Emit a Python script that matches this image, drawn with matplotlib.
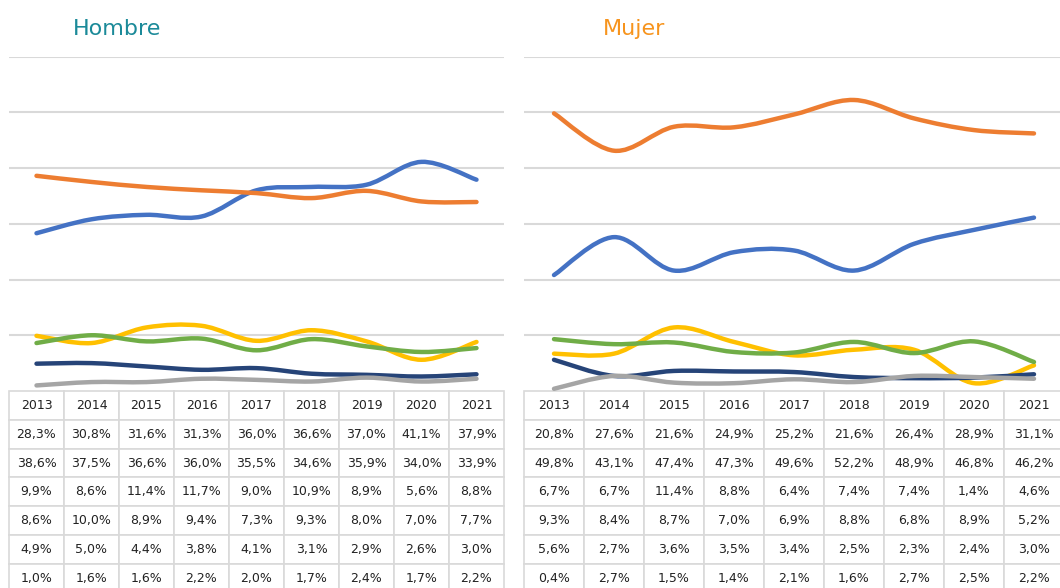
import numpy as np
import matplotlib
matplotlib.use('Agg')
import matplotlib.pyplot as plt
from matplotlib.path import Path
from matplotlib.patches import PathPatch

years = ['2013', '2014', '2015', '2016', '2017', '2018', '2019', '2020', '2021']

hombre_azul = [28.3, 30.8, 31.6, 31.3, 36.0, 36.6, 37.0, 41.1, 37.9]
hombre_naranja = [38.6, 37.5, 36.6, 36.0, 35.5, 34.6, 35.9, 34.0, 33.9]
hombre_amarillo = [9.9, 8.6, 11.4, 11.7, 9.0, 10.9, 8.9, 5.6, 8.8]
hombre_verde = [8.6, 10.0, 8.9, 9.4, 7.3, 9.3, 8.0, 7.0, 7.7]
hombre_marino = [4.9, 5.0, 4.4, 3.8, 4.1, 3.1, 2.9, 2.6, 3.0]
hombre_gris = [1.0, 1.6, 1.6, 2.2, 2.0, 1.7, 2.4, 1.7, 2.2]

mujer_azul = [20.8, 27.6, 21.6, 24.9, 25.2, 21.6, 26.4, 28.9, 31.1]
mujer_naranja = [49.8, 43.1, 47.4, 47.3, 49.6, 52.2, 48.9, 46.8, 46.2]
mujer_amarillo = [6.7, 6.7, 11.4, 8.8, 6.4, 7.4, 7.4, 1.4, 4.6]
mujer_verde = [9.3, 8.4, 8.7, 7.0, 6.9, 8.8, 6.8, 8.9, 5.2]
mujer_marino = [5.6, 2.7, 3.6, 3.5, 3.4, 2.5, 2.3, 2.4, 3.0]
mujer_gris = [0.4, 2.7, 1.5, 1.4, 2.1, 1.6, 2.7, 2.5, 2.2]

colors = ['#4472C4', '#ED7D31', '#FFC000', '#70AD47', '#264478', '#A5A5A5']
grid_color = '#D9D9D9'


def smooth_path(x, y):
    # Excel-like smoothed line: cubic bezier through each point
    x = np.asarray(x, float)
    y = np.asarray(y, float)
    n = len(x)
    verts = [(x[0], y[0])]
    codes = [Path.MOVETO]
    for i in range(n - 1):
        p0 = max(i - 1, 0)
        p3 = min(i + 2, n - 1)
        c1 = (x[i] + (x[i + 1] - x[p0]) / 6, y[i] + (y[i + 1] - y[p0]) / 6)
        c2 = (x[i + 1] - (x[p3] - x[i]) / 6, y[i + 1] - (y[p3] - y[i]) / 6)
        verts += [c1, c2, (x[i + 1], y[i + 1])]
        codes += [Path.CURVE4] * 3
    return Path(verts, codes)


def fmt(v):
    return f'{v:.1f}%'.replace('.', ',')


def draw_panel(ax, series, title, title_color, title_x):
    ax.set_xlim(-0.5, len(years) - 0.5)
    ax.set_ylim(0, 60)
    for g in range(10, 61, 10):
        ax.axhline(g, color=grid_color, lw=1.5, zorder=0)
    xs = np.arange(len(years))
    for vals, c in zip(series, colors):
        patch = PathPatch(smooth_path(xs, vals), facecolor='none', edgecolor=c,
                          lw=3.2, capstyle='round', joinstyle='round', zorder=2)
        ax.add_patch(patch)
    ax.set_xticks([])
    ax.set_yticks([])
    for s in ax.spines.values():
        s.set_visible(False)

    cell_text = [years] + [[fmt(v) for v in vals] for vals in series]
    h = 7 * 28.8 / 334.5
    tbl = ax.table(cellText=cell_text, cellLoc='center', bbox=[0, -h, 1, h])
    tbl.auto_set_font_size(False)
    tbl.set_fontsize(9)
    for cell in tbl.get_celld().values():
        cell.set_edgecolor(grid_color)
        cell.set_linewidth(1.2)
        cell.get_text().set_color('#222222')
    ax.figure.text(title_x, 1 - 35 / 588, title, color=title_color, fontsize=16,
                   ha='left', va='baseline')


fig = plt.figure(figsize=(10.6, 5.88), dpi=100)
bottom = (588 - 391) / 588
height = (391 - 56.5) / 588
ax1 = fig.add_axes([9 / 1060, bottom, (504 - 9) / 1060, height])
ax2 = fig.add_axes([524 / 1060, bottom, (1064 - 524) / 1060, height])

draw_panel(ax1, [hombre_azul, hombre_naranja, hombre_amarillo, hombre_verde,
                 hombre_marino, hombre_gris], 'Hombre', '#1B8A99', 73 / 1060)
draw_panel(ax2, [mujer_azul, mujer_naranja, mujer_amarillo, mujer_verde,
                 mujer_marino, mujer_gris], 'Mujer', '#F7941D', 603 / 1060)

fig.savefig('out.png', dpi=100)
